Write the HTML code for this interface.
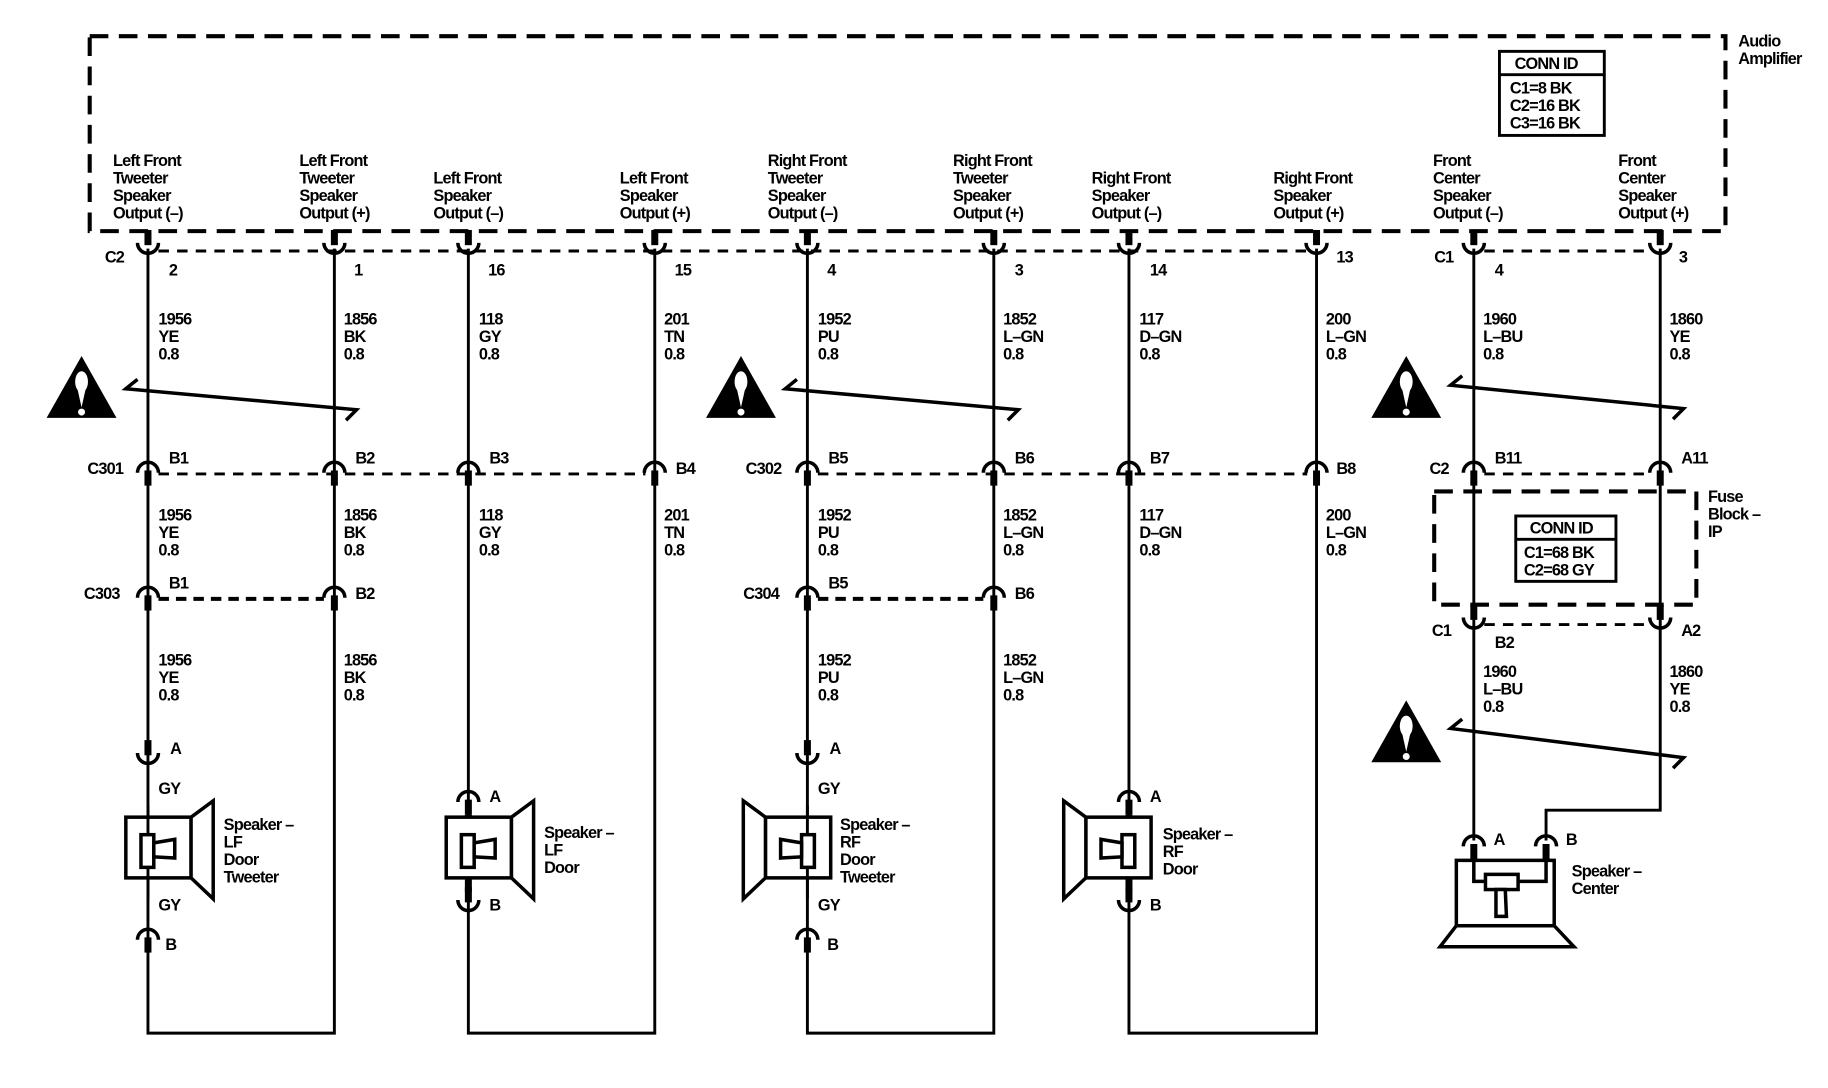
<!DOCTYPE html>
<html><head><meta charset="utf-8"><style>
html,body{margin:0;padding:0;background:#fff;}
svg{display:block;}
text{font-family:"Liberation Sans",Arial,sans-serif;font-size:14px;font-weight:bold;fill:#000;letter-spacing:-0.7px;}
</style></head><body>
<svg width="1828" height="1088" viewBox="0 0 1569 932" preserveAspectRatio="none" xmlns="http://www.w3.org/2000/svg">
<defs>
<g id="F"><rect x="-3" y="-16" width="6" height="13"/><path d="M-9,-5 A9,9 0 0,0 9,-5" fill="none" stroke="#000" stroke-width="3"/></g>
<g id="M"><path d="M-9,5 A9,9 0 0,1 9,5" fill="none" stroke="#000" stroke-width="3"/><rect x="-3" y="3" width="6" height="13"/></g>
<g id="W"><polygon points="0,0 30,53 -30,53" fill="#000"/><ellipse cx="0" cy="22" rx="5.5" ry="9" fill="#fff"/><path d="M-4,26 L0,44 L4,26 Z" fill="#fff"/><circle cx="0" cy="48" r="3" fill="#fff"/></g>
</defs>

<rect x="77" y="31" width="1404" height="167" fill="none" stroke="#000" stroke-width="3.5" stroke-dasharray="16 9"/>
<text x="1492" y="40">Audio</text><text x="1492" y="55">Amplifier</text>
<rect x="1287" y="44" width="90" height="72" fill="#fff" stroke="#000" stroke-width="2.5"/>
<line x1="1287" y1="64" x2="1377" y2="64" stroke="#000" stroke-width="2.5"/>
<text x="1300" y="59">CONN ID</text>
<text x="1296" y="80">C1=8 BK</text><text x="1296" y="95">C2=16 BK</text><text x="1296" y="110">C3=16 BK</text>

<g>
<text x="97" y="142">Left Front</text><text x="97" y="157">Tweeter</text><text x="97" y="172">Speaker</text><text x="97" y="187">Output (–)</text>
<text x="257" y="142">Left Front</text><text x="257" y="157">Tweeter</text><text x="257" y="172">Speaker</text><text x="257" y="187">Output (+)</text>
<text x="372" y="157">Left Front</text><text x="372" y="172">Speaker</text><text x="372" y="187">Output (–)</text>
<text x="532" y="157">Left Front</text><text x="532" y="172">Speaker</text><text x="532" y="187">Output (+)</text>
<text x="659" y="142">Right Front</text><text x="659" y="157">Tweeter</text><text x="659" y="172">Speaker</text><text x="659" y="187">Output (–)</text>
<text x="818" y="142">Right Front</text><text x="818" y="157">Tweeter</text><text x="818" y="172">Speaker</text><text x="818" y="187">Output (+)</text>
<text x="937" y="157">Right Front</text><text x="937" y="172">Speaker</text><text x="937" y="187">Output (–)</text>
<text x="1093" y="157">Right Front</text><text x="1093" y="172">Speaker</text><text x="1093" y="187">Output (+)</text>
<text x="1230" y="142">Front</text><text x="1230" y="157">Center</text><text x="1230" y="172">Speaker</text><text x="1230" y="187">Output (–)</text>
<text x="1389" y="142">Front</text><text x="1389" y="157">Center</text><text x="1389" y="172">Speaker</text><text x="1389" y="187">Output (+)</text>
</g>

<g stroke="#000" stroke-width="2.5" fill="none" stroke-dasharray="9 7">
<line x1="136" y1="215" x2="1122" y2="215"/>
<line x1="1274" y1="215" x2="1416" y2="215"/>
<line x1="136" y1="406" x2="554" y2="406"/>
<line x1="702" y1="406" x2="1122" y2="406"/>
<line x1="1274" y1="406" x2="1416" y2="406"/>
<line x1="1274" y1="535" x2="1416" y2="535"/>
</g>
<g stroke="#000" stroke-width="3.5" fill="none" stroke-dasharray="9 6">
<line x1="136" y1="513" x2="278" y2="513"/>
<line x1="702" y1="513" x2="844" y2="513"/>
</g>
<rect x="1231" y="421" width="225" height="97" fill="none" stroke="#000" stroke-width="3.5" stroke-dasharray="16 9"/>
<text x="1466" y="430">Fuse</text><text x="1466" y="445">Block –</text><text x="1466" y="460">IP</text>
<rect x="1301" y="442" width="86" height="56" fill="#fff" stroke="#000" stroke-width="2.5"/>
<line x1="1301" y1="462" x2="1387" y2="462" stroke="#000" stroke-width="2.5"/>
<text x="1313" y="457">CONN ID</text>
<text x="1308" y="478">C1=68 BK</text><text x="1308" y="493">C2=68 GY</text>

<g stroke="#000" stroke-width="2.5" fill="none">
<path d="M127,213 V885 H287 V213"/>
<path d="M402,213 V885 H562 V213"/>
<path d="M693,213 V885 H853 V213"/>
<path d="M969,213 V885 H1130 V213"/>
<path d="M1265,213 V720"/>
<path d="M1425,213 V694 H1327 V720"/>
</g>

<g>
<use href="#F" x="127" y="213"/><use href="#F" x="287" y="213"/><use href="#F" x="402" y="213"/><use href="#F" x="562" y="213"/>
<use href="#F" x="693" y="213"/><use href="#F" x="853" y="213"/><use href="#F" x="969" y="213"/><use href="#F" x="1130" y="213"/>
<use href="#F" x="1265" y="213"/><use href="#F" x="1425" y="213"/>
<use href="#M" x="127" y="400"/><use href="#M" x="287" y="400"/><use href="#M" x="402" y="400"/><use href="#M" x="562" y="400"/>
<use href="#M" x="693" y="400"/><use href="#M" x="853" y="400"/><use href="#M" x="969" y="400"/><use href="#M" x="1130" y="400"/>
<use href="#M" x="1265" y="400"/><use href="#M" x="1425" y="400"/>
<use href="#M" x="127" y="507"/><use href="#M" x="287" y="507"/><use href="#M" x="693" y="507"/><use href="#M" x="853" y="507"/>
<use href="#F" x="1265" y="534"/><use href="#F" x="1425" y="534"/>
<use href="#F" x="127" y="650"/><use href="#M" x="127" y="800"/>
<use href="#F" x="693" y="650"/><use href="#M" x="693" y="800"/>
<use href="#M" x="402" y="682"/><use href="#F" x="402" y="776"/>
<use href="#M" x="969" y="682"/><use href="#F" x="969" y="776"/>
<use href="#M" x="1265" y="720"/><use href="#M" x="1327" y="720"/>
</g>
<rect x="399" y="698" width="6" height="66"/><rect x="966" y="698" width="6" height="66"/>

<text x="90" y="225">C2</text><text x="1231" y="225">C1</text>
<text x="145" y="236">2</text><text x="304" y="236">1</text><text x="419" y="236">16</text><text x="579" y="236">15</text>
<text x="710" y="236">4</text><text x="871" y="236">3</text><text x="987" y="236">14</text><text x="1147" y="225">13</text>
<text x="1283" y="236">4</text><text x="1441" y="225">3</text>
<text x="75" y="406">C301</text><text x="640" y="406">C302</text><text x="1227" y="406">C2</text>
<text x="145" y="397">B1</text><text x="305" y="397">B2</text><text x="420" y="397">B3</text><text x="580" y="406">B4</text>
<text x="711" y="397">B5</text><text x="871" y="397">B6</text><text x="987" y="397">B7</text><text x="1147" y="406">B8</text>
<text x="1283" y="397">B11</text><text x="1443" y="397">A11</text>
<text x="72" y="513">C303</text><text x="638" y="513">C304</text>
<text x="145" y="504">B1</text><text x="305" y="513">B2</text><text x="711" y="504">B5</text><text x="871" y="513">B6</text>
<text x="1229" y="545">C1</text><text x="1283" y="555">B2</text><text x="1443" y="545">A2</text>

<g>
<text x="136" y="278">1956</text><text x="136" y="293">YE</text><text x="136" y="308">0.8</text>
<text x="295" y="278">1856</text><text x="295" y="293">BK</text><text x="295" y="308">0.8</text>
<text x="411" y="278">118</text><text x="411" y="293">GY</text><text x="411" y="308">0.8</text>
<text x="570" y="278">201</text><text x="570" y="293">TN</text><text x="570" y="308">0.8</text>
<text x="702" y="278">1952</text><text x="702" y="293">PU</text><text x="702" y="308">0.8</text>
<text x="861" y="278">1852</text><text x="861" y="293">L–GN</text><text x="861" y="308">0.8</text>
<text x="978" y="278">117</text><text x="978" y="293">D–GN</text><text x="978" y="308">0.8</text>
<text x="1138" y="278">200</text><text x="1138" y="293">L–GN</text><text x="1138" y="308">0.8</text>
<text x="1273" y="278">1960</text><text x="1273" y="293">L–BU</text><text x="1273" y="308">0.8</text>
<text x="1433" y="278">1860</text><text x="1433" y="293">YE</text><text x="1433" y="308">0.8</text>
</g>
<g>
<text x="136" y="446">1956</text><text x="136" y="461">YE</text><text x="136" y="476">0.8</text>
<text x="295" y="446">1856</text><text x="295" y="461">BK</text><text x="295" y="476">0.8</text>
<text x="411" y="446">118</text><text x="411" y="461">GY</text><text x="411" y="476">0.8</text>
<text x="570" y="446">201</text><text x="570" y="461">TN</text><text x="570" y="476">0.8</text>
<text x="702" y="446">1952</text><text x="702" y="461">PU</text><text x="702" y="476">0.8</text>
<text x="861" y="446">1852</text><text x="861" y="461">L–GN</text><text x="861" y="476">0.8</text>
<text x="978" y="446">117</text><text x="978" y="461">D–GN</text><text x="978" y="476">0.8</text>
<text x="1138" y="446">200</text><text x="1138" y="461">L–GN</text><text x="1138" y="476">0.8</text>
</g>
<g>
<text x="136" y="570">1956</text><text x="136" y="585">YE</text><text x="136" y="600">0.8</text>
<text x="295" y="570">1856</text><text x="295" y="585">BK</text><text x="295" y="600">0.8</text>
<text x="702" y="570">1952</text><text x="702" y="585">PU</text><text x="702" y="600">0.8</text>
<text x="861" y="570">1852</text><text x="861" y="585">L–GN</text><text x="861" y="600">0.8</text>
<text x="1273" y="580">1960</text><text x="1273" y="595">L–BU</text><text x="1273" y="610">0.8</text>
<text x="1433" y="580">1860</text><text x="1433" y="595">YE</text><text x="1433" y="610">0.8</text>
</g>

<g stroke="#000" stroke-width="3" fill="none">
<path d="M118,325 L108,333 L306,351 L297,360"/>
<path d="M684,325 L674,333 L874,351 L865,360"/>
<path d="M1255,322 L1245,330 L1445,350 L1436,359"/>
<path d="M1255,616 L1245,624 L1445,649 L1436,658"/>
</g>
<use href="#W" x="70" y="305"/><use href="#W" x="636" y="305"/><use href="#W" x="1207" y="305"/><use href="#W" x="1207" y="600"/>

<g stroke="#000" stroke-width="3" fill="#fff">
<rect x="108" y="700" width="56" height="52"/>
<polygon points="164,700 183,686 183,770 164,752"/>
<rect x="383" y="700" width="56" height="52"/>
<polygon points="439,700 458,686 458,770 439,752"/>
<rect x="657" y="700" width="56" height="52"/>
<polygon points="657,700 638,686 638,770 657,752"/>
<rect x="932" y="700" width="56" height="52"/>
<polygon points="932,700 913,686 913,770 932,752"/>
<rect x="1250" y="737" width="84" height="56"/>
<polygon points="1250,793 1334,793 1351,811 1236,811"/>
</g>
<g stroke="#000" stroke-width="2.5"><line x1="127" y1="690" x2="127" y2="770"/><line x1="693" y1="690" x2="693" y2="770"/></g>
<g stroke="#000" stroke-width="3" fill="#fff">
<rect x="121" y="715" width="11" height="28"/>
<polygon points="132,722 150,719 150,735 132,734"/>
<rect x="396" y="715" width="11" height="28"/>
<polygon points="407,722 425,719 425,735 407,734"/>
<rect x="688" y="715" width="11" height="28"/>
<polygon points="688,722 670,719 670,735 688,734"/>
<rect x="963" y="715" width="11" height="28"/>
<polygon points="963,722 945,719 945,735 963,734"/>
</g>
<g stroke="#000" stroke-width="3" fill="none">
<path d="M1265,735 V755 H1327 V735"/>
</g>
<rect x="1275" y="749" width="28" height="13" fill="#fff" stroke="#000" stroke-width="3"/>
<polygon points="1284,762 1292,762 1293,785 1284,785" fill="#fff" stroke="#000" stroke-width="3"/>

<text x="146" y="646">A</text><text x="136" y="680">GY</text><text x="136" y="780">GY</text><text x="142" y="814">B</text>
<text x="192" y="711">Speaker –</text><text x="192" y="726">LF</text><text x="192" y="741">Door</text><text x="192" y="756">Tweeter</text>
<text x="420" y="687">A</text><text x="420" y="780">B</text>
<text x="467" y="718">Speaker –</text><text x="467" y="733">LF</text><text x="467" y="748">Door</text>
<text x="712" y="646">A</text><text x="702" y="680">GY</text><text x="702" y="780">GY</text><text x="710" y="814">B</text>
<text x="721" y="711">Speaker –</text><text x="721" y="726">RF</text><text x="721" y="741">Door</text><text x="721" y="756">Tweeter</text>
<text x="987" y="687">A</text><text x="987" y="780">B</text>
<text x="998" y="719">Speaker –</text><text x="998" y="734">RF</text><text x="998" y="749">Door</text>
<text x="1282" y="724">A</text><text x="1344" y="724">B</text>
<text x="1349" y="751">Speaker –</text><text x="1349" y="766">Center</text>
</svg>
</body></html>
